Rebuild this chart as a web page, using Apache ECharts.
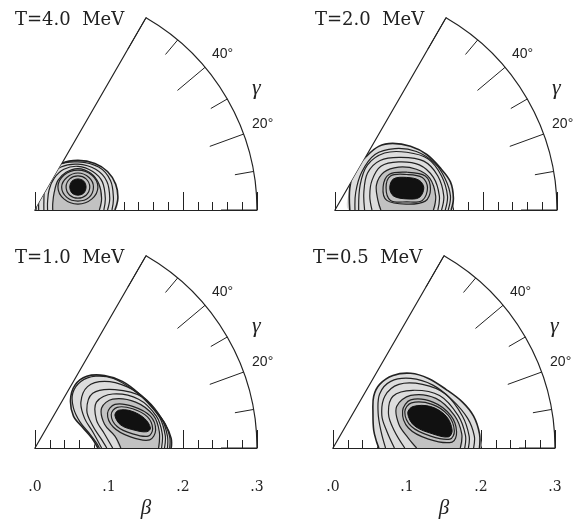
<!DOCTYPE html>
<html>
<head>
<meta charset="utf-8">
<script src="https://cdn.jsdelivr.net/npm/echarts@6/dist/echarts.min.js"></script>
<style>
  html, body { margin: 0; padding: 0; background: #fff; }
  #main { width: 579px; height: 521px; }
</style>
</head>
<body>
<div id="main"></div>
<script>
// contour points, as [beta*cos(gamma), beta*sin(gamma)]
// T = 4.0 MeV
const t40Outer = [[.108,0],[.112,.016],[.109,.035],[.098,.052],[.081,.063],[.058,.067],[.036,.063],[.019,.050],[.008,.030],[.003,.011],[.001,0]]
const t40Arcs = [
  [[.104,0],[.106,.016],[.102,.040],[.086,.058],[.058,.065],[.031,.061],[.015,.046],[.007,.027],[.005,.011],[.005,0]],
  [[.098,0],[.101,.016],[.097,.039],[.082,.055],[.058,.062],[.035,.058],[.020,.044],[.013,.027],[.012,.011],[.012,0]],
  [[.093,0],[.095,.016],[.091,.038],[.078,.052],[.058,.059],[.039,.055],[.026,.043],[.019,.027],[.017,.011],[.017,0]],
  [[.087,0],[.090,.016],[.086,.036],[.075,.050],[.058,.056],[.042,.051],[.031,.040],[.026,.024],[.024,.009],[.024,0]],
]
const t40Loops = [
  [[.085,.031],[.077,.047],[.058,.054],[.039,.047],[.031,.031],[.039,.015],[.058,.008],[.077,.015]],
  [[.079,.031],[.073,.044],[.058,.050],[.043,.044],[.036,.031],[.043,.017],[.058,.012],[.073,.017]],
  [[.074,.031],[.069,.042],[.058,.046],[.047,.042],[.042,.031],[.047,.020],[.058,.016],[.069,.020]],
]
const t40Core = [[.069,.031],[.066,.039],[.058,.042],[.050,.039],[.047,.031],[.050,.023],[.058,.020],[.066,.023]]

// T = 2.0 MeV
const t20Outer = [[.157,0],[.160,.016],[.156,.038],[.143,.056],[.124,.075],[.102,.086],[.078,.090],[.059,.086],[.043,.073],[.027,.054],[.020,.030],[.020,0]]
const t20Arcs = [
  [[.153,0],[.156,.019],[.149,.042],[.135,.063],[.110,.079],[.081,.083],[.054,.075],[.036,.051],[.028,.024],[.027,0]],
  [[.149,0],[.152,.019],[.144,.046],[.126,.069],[.097,.078],[.067,.077],[.044,.061],[.034,.034],[.032,0]],
  [[.144,0],[.147,.019],[.139,.046],[.120,.066],[.089,.071],[.061,.067],[.044,.050],[.039,.024],[.040,0]],
  [[.139,0],[.141,.019],[.133,.044],[.114,.061],[.086,.065],[.062,.059],[.050,.040],[.047,.019],[.050,0]],
  [[.133,0],[.136,.019],[.128,.043],[.110,.055],[.086,.058],[.066,.051],[.056,.034],[.058,.013],[.062,0]],
]
const t20Loops = [
  [[.129,.028],[.122,.046],[.098,.051],[.073,.048],[.065,.031],[.070,.013],[.097,.008],[.122,.012]],
  [[.125,.030],[.118,.044],[.097,.048],[.075,.046],[.069,.030],[.075,.013],[.097,.011],[.118,.013]],
]
const t20Core = [[.120,.030],[.114,.040],[.097,.044],[.079,.042],[.074,.030],[.079,.019],[.097,.015],[.114,.017]]

// T = 1.0 MeV
const t10Outer = [[.184,0],[.184,.013],[.176,.032],[.159,.054],[.140,.074],[.118,.090],[.094,.098],[.070,.097],[.054,.085],[.048,.065],[.052,.043],[.065,.027],[.077,.013],[.085,0]]
const t10Arcs = [
  [[.182,0],[.182,.015],[.174,.036],[.155,.059],[.132,.079],[.106,.094],[.082,.097],[.062,.090],[.051,.074],[.052,.054],[.061,.035],[.074,.019],[.083,.007],[.087,0]],
  [[.179,0],[.179,.016],[.171,.040],[.151,.065],[.124,.083],[.094,.090],[.071,.083],[.062,.062],[.067,.040],[.078,.022],[.090,0]],
  [[.175,0],[.176,.017],[.168,.042],[.145,.069],[.108,.079],[.078,.074],[.070,.051],[.078,.030],[.089,.013],[.097,0]],
  [[.171,0],[.172,.019],[.164,.043],[.140,.066],[.105,.073],[.083,.062],[.083,.038],[.094,.019],[.105,0]],
  [[.167,0],[.168,.022],[.160,.044],[.136,.062],[.105,.066],[.090,.054],[.094,.032],[.108,.016],[.116,0]],
]
const t10Loops = [
  [[.163,.024],[.156,.043],[.133,.056],[.108,.059],[.098,.047],[.106,.028],[.129,.015],[.155,.011]],
  [[.159,.026],[.152,.042],[.132,.053],[.111,.055],[.103,.045],[.111,.029],[.132,.019],[.153,.016]],
]
const t10Core = [[.156,.027],[.148,.040],[.130,.050],[.113,.051],[.108,.044],[.116,.031],[.135,.024],[.151,.022]]

// T = 0.5 MeV
const t05Outer = [[.198,0],[.198,.019],[.190,.043],[.175,.062],[.153,.079],[.129,.094],[.105,.101],[.081,.098],[.063,.086],[.055,.070],[.054,.047],[.055,.024],[.059,.008],[.062,0]]
const t05Arcs = [
  [[.190,0],[.191,.016],[.182,.040],[.161,.065],[.135,.085],[.105,.094],[.078,.090],[.063,.073],[.061,.047],[.065,.022],[.071,0]],
  [[.183,0],[.184,.016],[.175,.043],[.152,.073],[.121,.086],[.089,.086],[.070,.070],[.066,.044],[.073,.022],[.083,0]],
  [[.178,0],[.179,.017],[.169,.044],[.144,.071],[.108,.078],[.081,.070],[.075,.046],[.083,.023],[.097,0]],
  [[.172,0],[.174,.019],[.164,.044],[.139,.067],[.105,.071],[.086,.056],[.089,.032],[.102,.013],[.113,0]],
]
const t05Loops = [
  [[.167,.022],[.159,.044],[.135,.062],[.105,.065],[.094,.050],[.102,.027],[.129,.012],[.161,.008]],
  [[.164,.023],[.156,.044],[.134,.059],[.106,.061],[.097,.049],[.106,.029],[.132,.016],[.158,.012]],
]
const t05Core = [[.161,.024],[.153,.043],[.132,.056],[.108,.056],[.101,.047],[.110,.030],[.135,.019],[.156,.015]]

const panelTitles = ['T=4.0  MeV', 'T=2.0  MeV', 'T=1.0  MeV', 'T=0.5  MeV']
const betaTickLabels = ['.0', '.1', '.2', '.3']
const gammaTickLabels = ['', '20°', '40°', '']

const panels = [
  { outer: t40Outer, arcs: t40Arcs, loops: t40Loops, core: t40Core },
  { outer: t20Outer, arcs: t20Arcs, loops: t20Loops, core: t20Core },
  { outer: t10Outer, arcs: t10Arcs, loops: t10Loops, core: t10Core },
  { outer: t05Outer, arcs: t05Arcs, loops: t05Loops, core: t05Core },
]

const ink = '#222'
const centers = [[35, 210], [335, 210], [35, 448], [333, 448]]
const R = 222

const toPolar = ([x, y]) => [Math.hypot(x, y), Math.atan2(y, x) * 180 / Math.PI]

const polar = []
const angleAxis = []
const radiusAxis = []
const series = []
const title = []

panels.forEach((p, i) => {
  const [cx, cy] = centers[i]
  const bottom = i >= 2

  // the sector itself: arc + beta axis
  polar.push({ center: [cx, cy], radius: R })
  angleAxis.push({
    polarIndex: 2 * i,
    type: 'value',
    min: 0,
    max: 60,
    interval: 20,
    startAngle: 0,
    endAngle: 60,
    clockwise: false,
    axisLine: { lineStyle: { color: ink, width: 1.2 } },
    axisTick: { inside: true, length: 36, lineStyle: { color: ink, width: 1 } },
    minorTick: { show: true, splitNumber: 2, length: 19, lineStyle: { color: ink, width: 1 } },
    axisLabel: {
      margin: 9,
      formatter: v => gammaTickLabels[Math.round(v / 20)],
      fontFamily: 'Liberation Sans',
      fontSize: 14,
      color: ink,
    },
    splitLine: { show: false },
  })
  radiusAxis.push({
    polarIndex: 2 * i,
    type: 'value',
    min: 0,
    max: 0.3,
    interval: 0.1,
    axisLine: { lineStyle: { color: ink, width: 1.2 } },
    axisTick: { length: 18, lineStyle: { color: ink, width: 1 } },
    minorTick: { show: true, splitNumber: 5, length: 8, lineStyle: { color: ink, width: 1 } },
    axisLabel: {
      show: bottom,
      margin: -39,
      verticalAlign: 'middle',
      formatter: v => betaTickLabels[Math.round(v * 10)],
      fontFamily: 'DejaVu Serif',
      fontSize: 14,
      color: ink,
    },
    name: bottom ? 'β' : '',
    nameLocation: 'middle',
    nameGap: 50,
    nameTextStyle: { fontFamily: 'Liberation Serif', fontStyle: 'italic', fontSize: 21, color: ink },
    splitLine: { show: false },
  })

  // second polar only to draw the gamma = 60 edge
  polar.push({ center: [cx, cy], radius: R })
  angleAxis.push({
    polarIndex: 2 * i + 1,
    type: 'value',
    min: 0,
    max: 60,
    startAngle: 60,
    endAngle: 120,
    clockwise: false,
    axisLine: { show: false },
    axisTick: { show: false },
    axisLabel: { show: false },
    splitLine: { show: false },
  })
  radiusAxis.push({
    polarIndex: 2 * i + 1,
    type: 'value',
    min: 0,
    max: 0.3,
    axisLine: { lineStyle: { color: ink, width: 1.2 } },
    axisTick: { show: false },
    axisLabel: { show: false },
    splitLine: { show: false },
  })

  series.push({
    type: 'custom',
    coordinateSystem: 'polar',
    polarIndex: 2 * i,
    clip: true,
    silent: true,
    data: [[0, 0]],
    renderItem: (params, api) => {
      const pts = arr => arr.map(q => api.coord(toPolar(q)))
      const line = { fill: null, stroke: ink, lineWidth: 1.2 }
      const inner = p.arcs[p.arcs.length - 1]
      const children = [
        { type: 'polygon', shape: { points: pts(p.outer), smooth: 0.35 }, style: { fill: '#dddddd' } },
        { type: 'polygon', shape: { points: pts(inner), smooth: 0.35 }, style: { fill: '#c2c2c2' } },
        { type: 'polyline', shape: { points: pts(p.outer), smooth: 0.35 }, style: { ...line, lineWidth: 1.6 } },
      ]
      p.arcs.forEach(a => children.push({ type: 'polyline', shape: { points: pts(a), smooth: 0.35 }, style: line }))
      p.loops.forEach(l => children.push({ type: 'polygon', shape: { points: pts(l), smooth: 0.35 }, style: line }))
      children.push({ type: 'polygon', shape: { points: pts(p.core), smooth: 0.35 }, style: { fill: '#111', stroke: '#111', lineWidth: 1 } })
      return { type: 'group', children }
    },
  })

  title.push({
    text: panelTitles[i],
    left: cx - 20,
    top: cy - 199,
    padding: 0,
    textStyle: { fontFamily: 'DejaVu Serif', fontSize: 18, fontWeight: 'normal', color: ink },
  })
  title.push({
    text: 'γ',
    left: cx + 217,
    top: cy - 133,
    padding: 0,
    textStyle: { fontFamily: 'Liberation Serif', fontStyle: 'italic', fontSize: 22, fontWeight: 'normal', color: ink },
  })
})

const myChart = echarts.init(document.getElementById('main'))
myChart.setOption({
  animation: false,
  backgroundColor: '#fff',
  title,
  polar,
  angleAxis,
  radiusAxis,
  series,
})
</script>
</body>
</html>
